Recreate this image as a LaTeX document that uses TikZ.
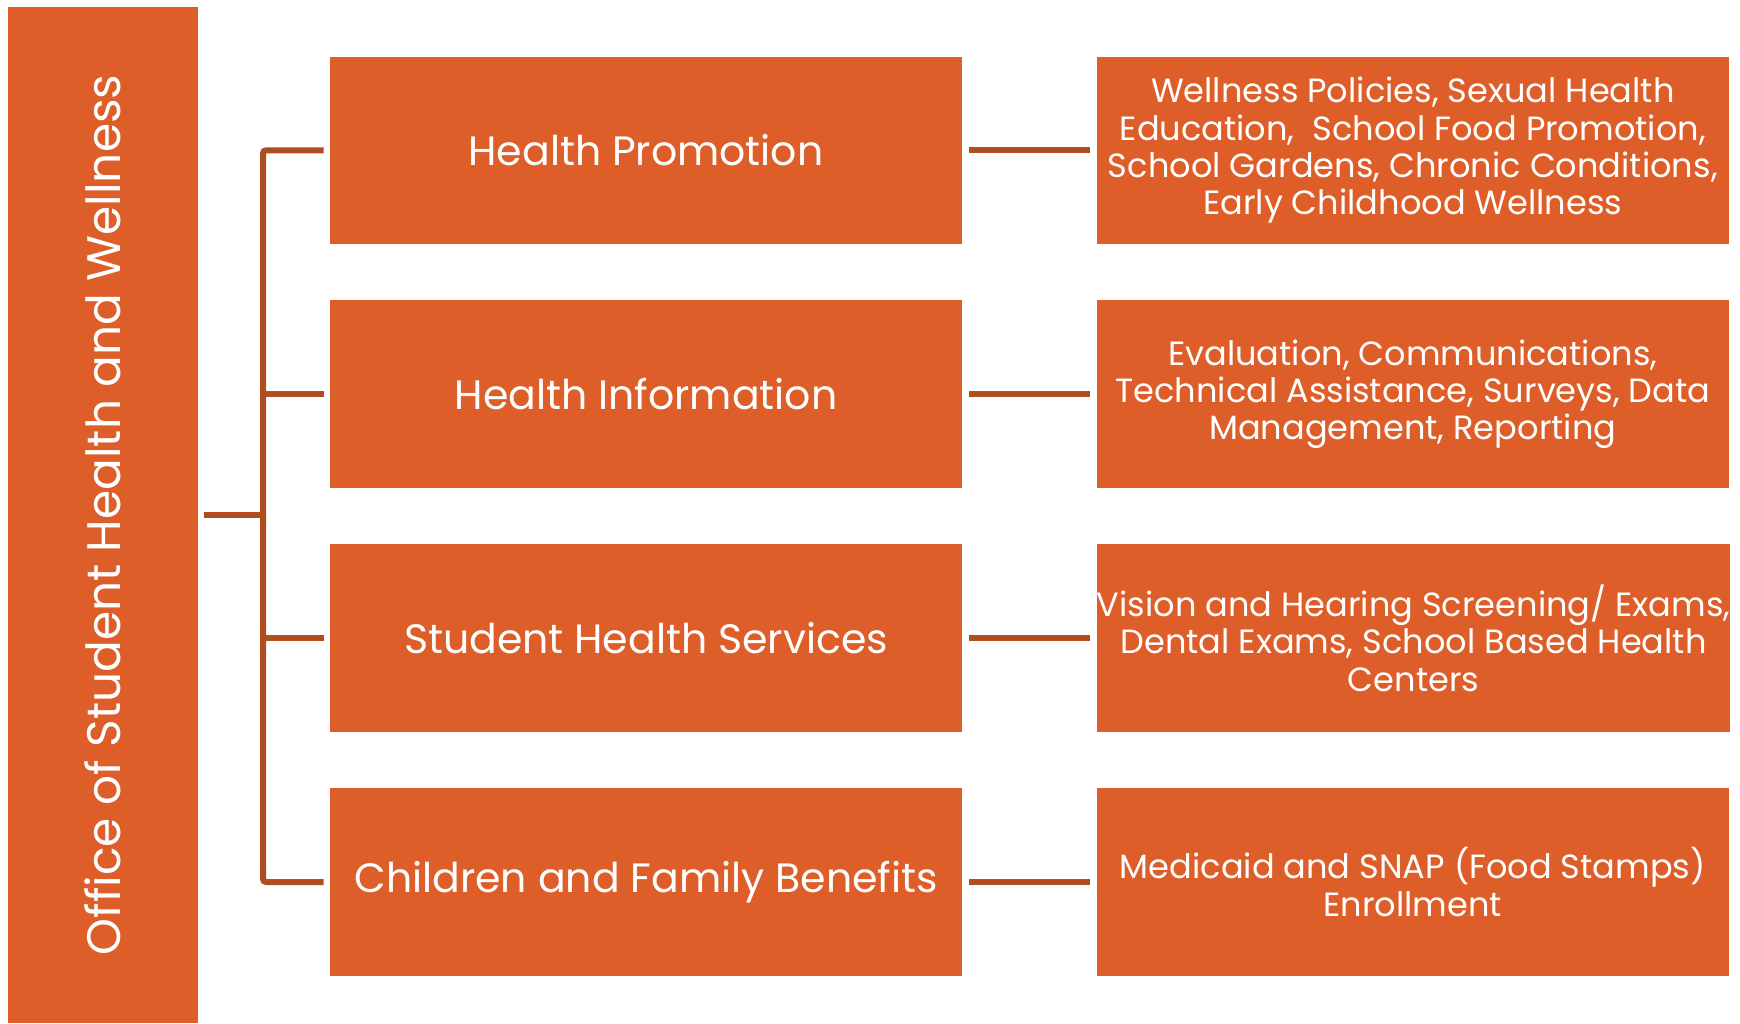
\documentclass[tikz,border=0pt]{standalone}
\usepackage{fontspec}
\setmainfont{Poppins}
\usepackage{tikz}
\usetikzlibrary{positioning}

\definecolor{boxorange}{HTML}{DE5E2A}
\definecolor{linkbrown}{HTML}{B24C21}

\begin{document}
\begin{tikzpicture}[
                    x=0.5pt, y=-0.5pt,
                    every node/.style={draw=none, fill=boxorange, text=white, align=center, inner sep=0pt},
                    office/.style={rotate=90, minimum width=508pt, minimum height=95pt, font=\fontsize{23.5}{28}\selectfont},
                    unit/.style={minimum width=316pt, minimum height=93.75pt, font=\fontsize{20.5}{24}\selectfont},
                    detail/.style={minimum width=316pt, minimum height=93.75pt, font=\fontsize{16.8}{18.7}\selectfont},
                    link/.style={draw=linkbrown, line width=3pt}
                    ]
  \useasboundingbox (0,0) rectangle (1740,1023);

  \node[office] (osh) at (102.5,515) {Office of Student Health and Wellness};

  % units
  \node[unit] (hp) at (646,150.3) {Health Promotion};
  \node[unit, below=27.8pt of hp] (hi) {Health Information};
  \node[unit, below=27.8pt of hi] (shs) {Student Health Services};
  \node[unit, below=27.8pt of shs] (cfb) {Children and Family Benefits};

  % details
  \node[detail, right=67pt of hp] (hpd) {Wellness Policies, Sexual Health\\Education,~ School Food Promotion,\\School Gardens, Chronic Conditions,\\Early Childhood Wellness};
  \node[detail, right=67pt of hi] (hid) {Evaluation, Communications,\\Technical Assistance, Surveys, Data\\Management, Reporting};
  \node[detail, right=67pt of shs] (shsd) {Vision and Hearing Screening/ Exams,\\Dental Exams, School Based Health\\Centers};
  \node[detail, right=67pt of cfb] (cfbd) {Medicaid and SNAP (Food Stamps)\\Enrollment};

  \coordinate (trunk) at (263,515);

  % connectors
  \draw[link, shorten <=3pt] (osh.south) -- (trunk);
  \draw[link, rounded corners=1.5pt] ([xshift=-3pt]hp.west) -| (trunk |- cfb.west) -- ([xshift=-3pt]cfb.west);
  \draw[link, shorten >=3pt] (trunk |- hi.west) -- (hi.west);
  \draw[link, shorten >=3pt] (trunk |- shs.west) -- (shs.west);
  \foreach \a/\b in {hp/hpd, hi/hid, shs/shsd, cfb/cfbd}
    \draw[link, shorten <=3.5pt, shorten >=3pt] (\a.east) -- (\b.west);
\end{tikzpicture}
\end{document}
